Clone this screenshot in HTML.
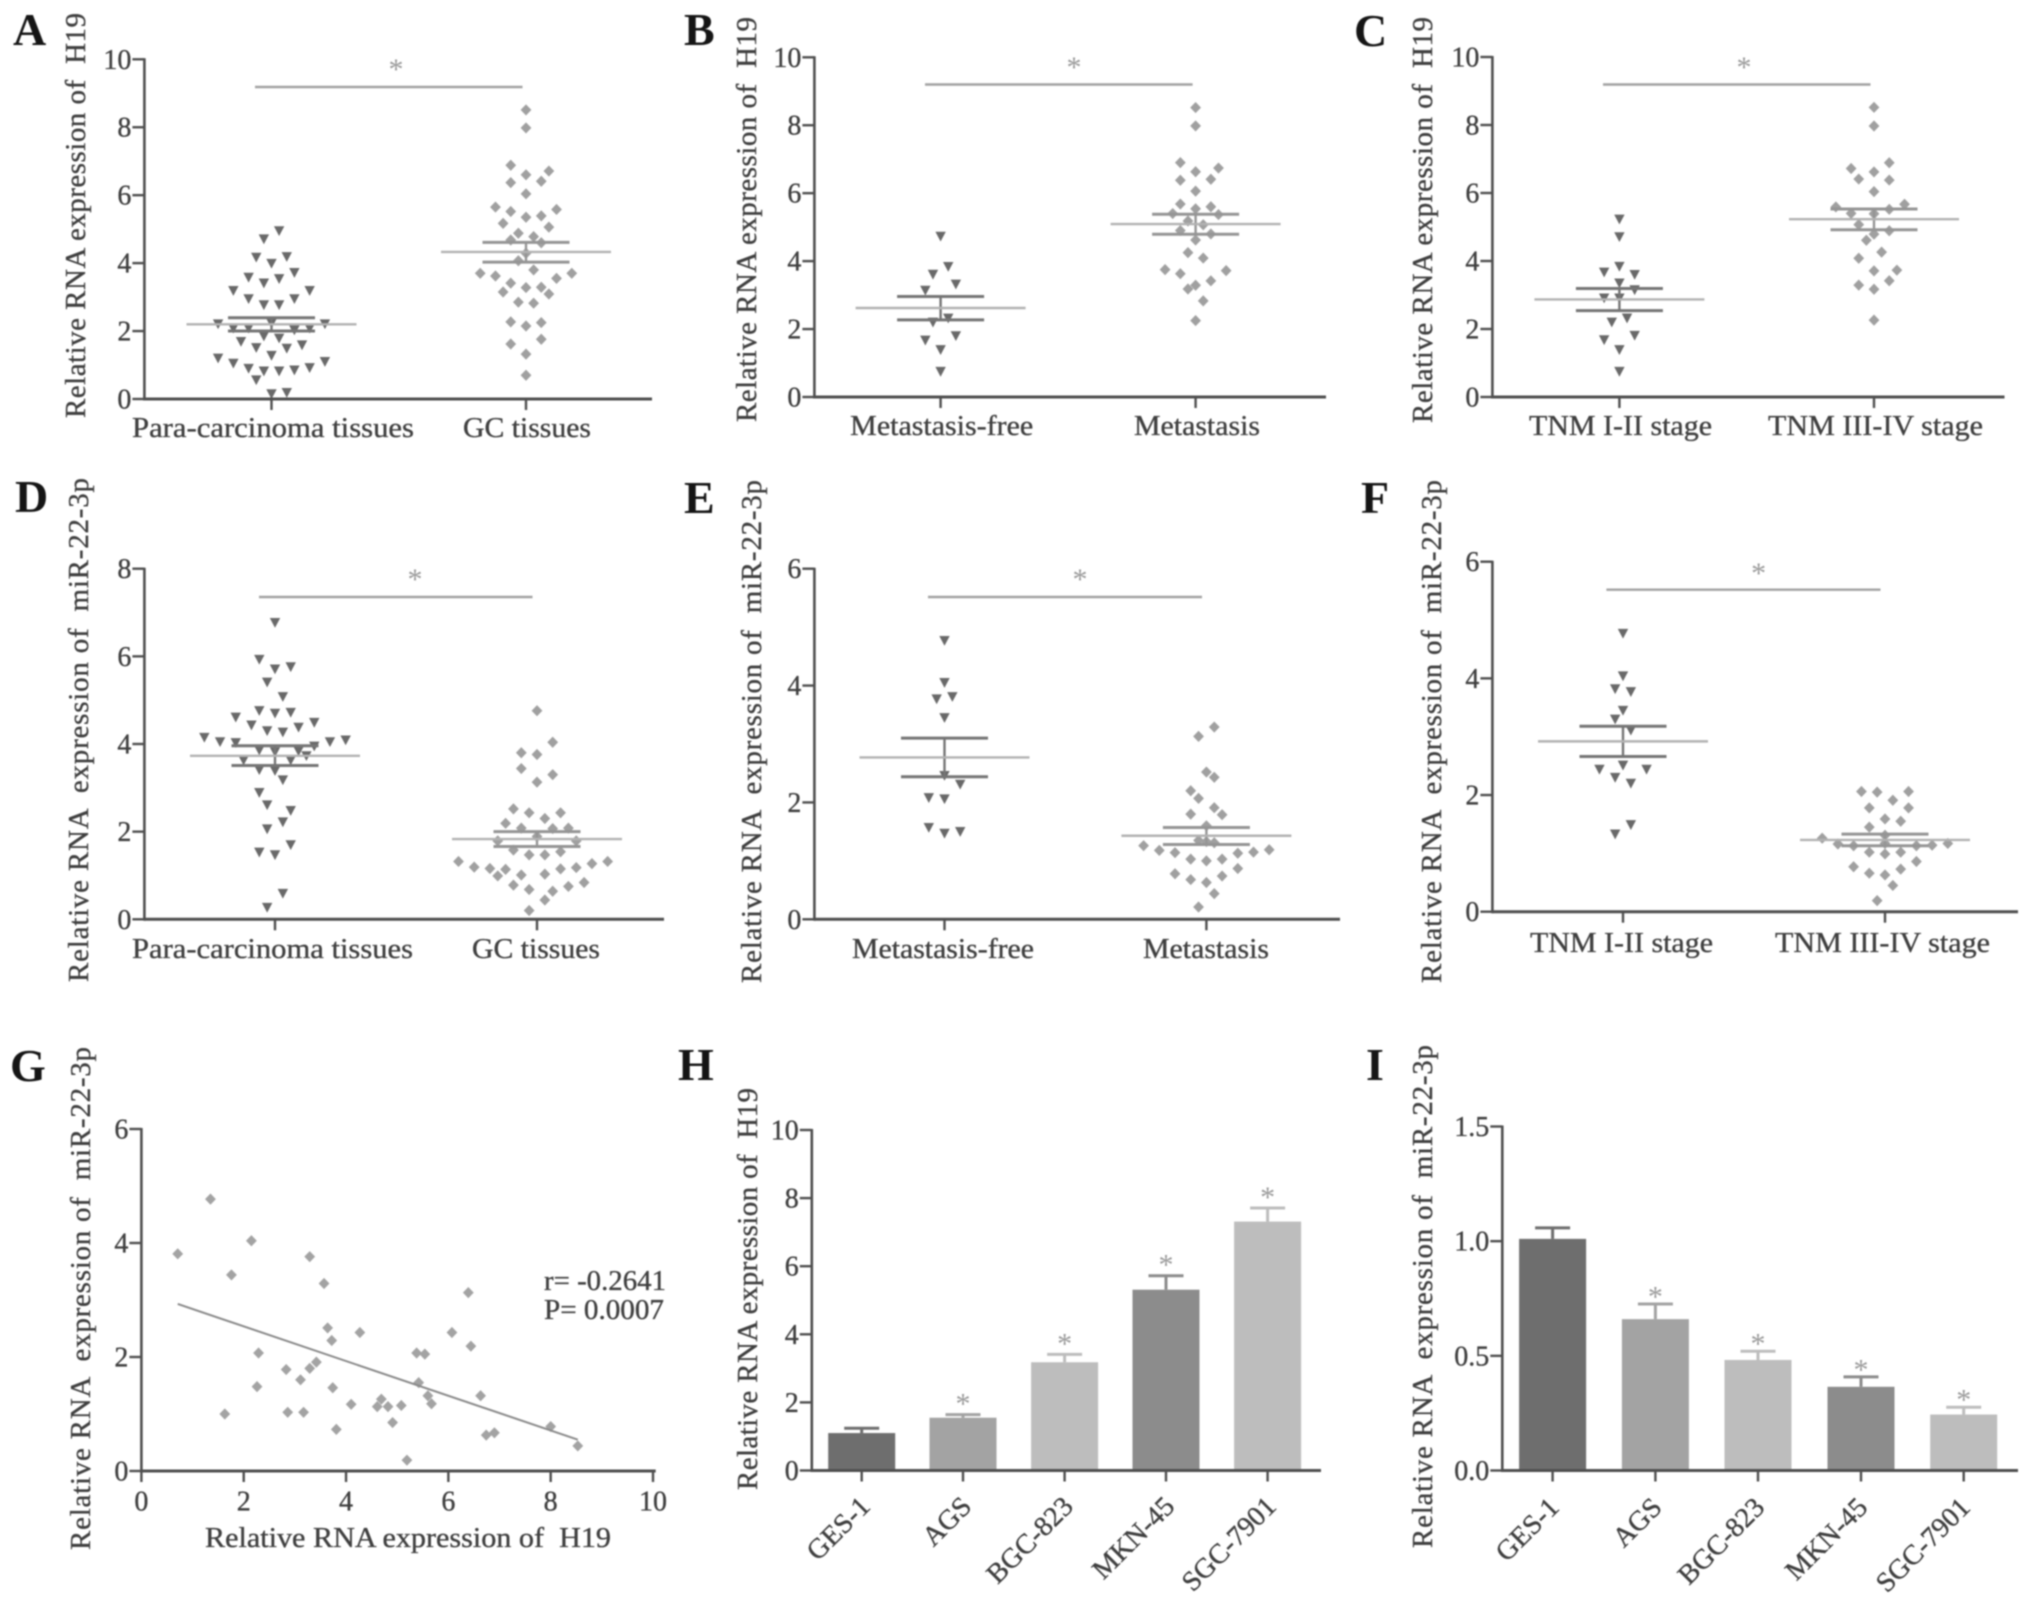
<!DOCTYPE html>
<html>
<head>
<meta charset="utf-8">
<title>H19 and miR-22-3p expression panels</title>
<style>
html,body{margin:0;padding:0;background:#fff;}
svg{display:block;}
text{font-family:"Liberation Serif",serif;fill:#3f3f3f;stroke:#3f3f3f;stroke-width:0.35px;}
#art{filter:blur(0.7px);}
.tick{font-size:28px;}
.axt{font-size:29px;}
.cat{font-size:28px;}
.letter{font-size:46px;font-weight:bold;fill:#151515;stroke:none;}
.star{font-size:30px;fill:#9a9a9a;stroke:none;text-anchor:middle;}
.sig{stroke:#a2a2a2;stroke-width:2.4;}
</style>
</head>
<body>
<svg id="fig" xmlns="http://www.w3.org/2000/svg" width="2031" height="1604" viewBox="0 0 2031 1604">
<rect width="2031" height="1604" fill="#fff"/>
<g id="art">
  <text class="letter" x="13" y="45">A</text>
  <text class="letter" x="684" y="45">B</text>
  <text class="letter" x="1354" y="46">C</text>
  <text class="letter" x="15" y="512">D</text>
  <text class="letter" x="684" y="513">E</text>
  <text class="letter" x="1361" y="513">F</text>
  <text class="letter" x="10" y="1081">G</text>
  <text class="letter" x="678" y="1080">H</text>
  <text class="letter" x="1366" y="1080">I</text>

  <text class="axt" transform="translate(85,418) rotate(-90)" textLength="405" xml:space="preserve">Relative RNA expression of  H19</text>
  <text class="axt" transform="translate(756,422) rotate(-90)" textLength="405" xml:space="preserve">Relative RNA expression of  H19</text>
  <text class="axt" transform="translate(1432,423) rotate(-90)" textLength="406" xml:space="preserve">Relative RNA expression of  H19</text>
  <text class="axt" transform="translate(88,982) rotate(-90)" textLength="504" xml:space="preserve">Relative RNA  expression of  miR-22-3p</text>
  <text class="axt" transform="translate(761,983) rotate(-90)" textLength="503" xml:space="preserve">Relative RNA  expression of  miR-22-3p</text>
  <text class="axt" transform="translate(1441,983) rotate(-90)" textLength="503" xml:space="preserve">Relative RNA  expression of  miR-22-3p</text>
  <text class="axt" transform="translate(90,1550) rotate(-90)" textLength="503" xml:space="preserve">Relative RNA  expression of  miR-22-3p</text>
  <text class="axt" transform="translate(757,1490) rotate(-90)" textLength="402" xml:space="preserve">Relative RNA expression of  H19</text>
  <text class="axt" transform="translate(1432,1548) rotate(-90)" textLength="503" xml:space="preserve">Relative RNA  expression of  miR-22-3p</text>
  <text class="cat" x="205" y="1547" textLength="406" lengthAdjust="spacingAndGlyphs" xml:space="preserve">Relative RNA expression of  H19</text>

  <line class="sig" x1="255" y1="87" x2="522.5" y2="87"/>
  <text class="star" x="396" y="79">*</text>
  <line class="sig" x1="925" y1="84.5" x2="1192.6" y2="84.5"/>
  <text class="star" x="1074" y="77">*</text>
  <line class="sig" x1="1603" y1="84.5" x2="1870.5" y2="84.5"/>
  <text class="star" x="1744" y="77">*</text>
  <line class="sig" x1="259" y1="597" x2="532.5" y2="597"/>
  <text class="star" x="415" y="589">*</text>
  <line class="sig" x1="928" y1="597" x2="1202" y2="597"/>
  <text class="star" x="1080" y="589">*</text>
  <line class="sig" x1="1606.4" y1="589.7" x2="1880.5" y2="589.7"/>
  <text class="star" x="1758.6" y="583">*</text>

  <text class="cat" x="544" y="1290" textLength="122" lengthAdjust="spacingAndGlyphs" xml:space="preserve">r= -0.2641</text>
  <text class="cat" x="544" y="1319" textLength="120" lengthAdjust="spacingAndGlyphs" xml:space="preserve">P= 0.0007</text>

  <g id="panel-a"></g>
  <g id="panel-b"></g>
  <g id="panel-c"></g>
  <g id="panel-d"></g>
  <g id="panel-e"></g>
  <g id="panel-f"></g>
  <g id="panel-g"></g>
  <g id="panel-h"></g>
  <g id="panel-i"></g>
</g>
</svg>
<script>
// ---------- tick labels and categories ----------
const ticksTen = [0, 2, 4, 6, 8, 10];
const ticksEight = [0, 2, 4, 6, 8];
const ticksSix = [0, 2, 4, 6];
const ticksOneFive = ["0.0", "0.5", "1.0", "1.5"];
const categoriesTissues = ["Para-carcinoma tissues", "GC tissues"];
const categoriesMetastasis = ["Metastasis-free", "Metastasis"];
const categoriesTnm = ["TNM I-II stage", "TNM III-IV stage"];
const categoriesCells = ["GES-1", "AGS", "BGC-823", "MKN-45", "SGC-7901"];

// ---------- swarm series: values, swarm column index, [mean, lower, upper] ----------
const aLeftValues = [4.95,4.71,4.17,4.19,3.99,3.72,3.58,3.54,3.41,3.19,3.19,2.95,2.95,2.77,2.77,2.21,2.21,2.08,2.08,2.08,2.03,2.23,1.85,1.79,1.69,1.59,1.51,1.49,1.28,1.20,1.10,1.05,0.90,0.92,0.82,0.82,0.85,0.56,0.15,0.19];
const aLeftColumns = [1,-1,-2,2,0,3,-3,1,-1,-5,5,-3,3,-1,1,-7,7,-5,-3,5,3,0,-1,1,-4,4,-2,2,0,-7,7,-5,-3,5,-1,1,3,-2,0,2];
const aLeftStats = [2.2, 2.0, 2.39];
const aRightValues = [8.51,7.98,6.88,6.71,6.6,6.37,6.41,6.04,5.65,5.58,5.52,5.39,5.35,5.17,5.06,4.88,4.78,4.68,4.6,4.29,4.07,3.8,3.7,3.7,3.62,3.55,3.41,3.28,3.29,3.15,3.09,2.85,2.82,2.27,2.25,2.15,1.76,1.62,1.32,0.7];
const aRightColumns = [0,0,-2,3,0,-2,2,0,-4,4,-2,2,0,-3,3,-1,1,-2,2,0,-1,1,-6,6,-4,4,-2,0,2,-3,3,-1,1,-2,2,0,2,-2,0,0];
const aRightStats = [4.33, 4.03, 4.61];

const bLeftValues = [4.73,3.84,3.61,3.32,3.14,2.32,2.2,1.8,1.67,1.39,0.75];
const bLeftColumns = [0,1,-1,2,-2,1,-1,2,-2,0,0];
const bLeftStats = [2.62, 2.27, 2.96];
const bRightValues = [8.52,7.98,6.9,6.74,6.63,6.38,6.41,6.06,5.68,5.6,5.54,5.4,5.37,5.18,5.07,4.9,4.8,4.62,4.25,4.09,3.75,3.72,3.63,3.42,3.29,3.18,2.83,2.25];
const bRightColumns = [0,0,-2,3,0,-2,2,0,-2,2,0,-3,3,-1,1,-2,2,0,-1,1,-4,4,-2,2,0,-1,1,0];
const bRightStats = [5.09, 4.79, 5.38];

const cLeftValues = [5.23,4.71,3.84,3.67,3.6,3.35,3.15,2.91,2.91,2.32,2.2,1.81,1.68,1.39,0.75];
const cLeftColumns = [0,0,0,-2,2,0,2,-2,0,1,-1,2,-2,0,0];
const cLeftStats = [2.87, 2.54, 3.19];
const cRightValues = [8.52,7.97,6.89,6.72,6.62,6.41,6.38,6.04,5.67,5.59,5.52,5.4,5.39,5.07,4.89,4.79,4.61,4.26,4.08,3.71,3.73,3.42,3.29,3.17,2.26];
const cRightColumns = [0,0,2,-3,0,-2,2,0,4,-5,2,-3,0,-2,2,0,-1,1,-2,0,3,2,-2,0,0];
const cRightStats = [5.23, 4.92, 5.53];

const dLeftValues = [6.77,5.93,5.76,5.71,5.41,5.08,4.76,4.7,4.72,4.61,4.49,4.43,4.38,4.3,4.27,4.15,4.09,4.05,4.05,4.03,3.95,3.86,3.84,3.82,3.73,3.63,3.63,3.41,3.39,3.18,2.89,2.61,2.48,2.22,2.06,1.7,1.53,1.47,0.59,0.27];
const dLeftColumns = [0,-2,2,0,-1,1,-2,0,2,-5,5,-3,3,-1,1,-9,9,-7,7,-5,5,-2,3,0,4,-4,2,-2,0,1,-2,-1,2,1,-1,2,-2,0,1,-1];
const dLeftStats = [3.73, 3.51, 3.96];
const dRightValues = [4.76,4.04,3.8,3.76,3.44,3.3,3.13,2.52,2.43,2.43,2.3,2.19,2.08,2.07,2.08,1.89,1.79,1.79,1.58,1.54,1.47,1.47,1.32,1.32,1.27,1.19,1.16,1.14,1.15,1.18,0.99,1.01,1.03,0.84,0.78,0.75,0.68,0.64,0.44,0.2];
const dRightColumns = [0,2,-2,0,-2,2,0,-3,-1,3,1,-4,-2,2,4,0,-5,5,-3,3,-1,1,-10,9,7,-8,-6,-4,3,5,-5,-2,1,6,-3,4,-1,2,1,-1];
const dRightStats = [1.83, 1.66, 2.0];

const eLeftValues = [4.77,4.05,3.81,3.77,3.45,2.46,2.31,2.08,2.06,1.57,1.5,1.47];
const eLeftColumns = [0,0,1,-1,0,0,2,-2,0,-2,2,0];
const eLeftStats = [2.77, 2.44, 3.1];
const eRightValues = [3.29,3.13,2.52,2.43,2.2,2.07,1.91,1.79,1.8,1.6,1.35,1.33,1.31,1.26,1.18,1.14,1.13,1.15,1.19,1.03,1.0,1.03,0.87,0.78,0.74,0.68,0.63,0.44,0.21];
const eRightColumns = [1,-1,0,1,-2,-1,1,2,-2,0,-1,0,1,-8,-6,-4,4,6,8,-2,0,2,4,-4,2,-2,0,1,-1];
const eRightStats = [1.43, 1.28, 1.57];

const fLeftValues = [4.77,4.04,3.77,3.82,3.45,3.3,3.11,2.51,2.44,2.44,2.3,2.2,1.49,1.33];
const fLeftColumns = [0,0,1,-1,0,-1,1,0,-3,3,-1,1,1,-1];
const fLeftStats = [2.92, 2.66, 3.18];
const fRightValues = [2.06,2.05,2.06,1.91,1.78,1.78,1.59,1.55,1.45,1.31,1.26,1.16,1.13,1.17,1.13,1.14,1.17,1.02,0.99,1.02,0.86,0.77,0.73,0.66,0.63,0.45,0.19];
const fRightColumns = [-3,-1,3,1,-2,3,0,2,-2,0,-8,-6,-4,0,4,6,8,-2,0,2,4,-4,2,-2,0,1,-1];
const fRightStats = [1.23, 1.13, 1.33];

// ---------- scatter series (panel G) ----------
const scatterH19 = [0.71,1.35,1.76,1.63,2.15,2.29,2.26,2.83,2.86,3.11,3.17,3.29,3.29,3.42,3.57,3.64,3.72,3.74,3.81,4.1,4.27,4.61,4.69,4.82,4.91,5.08,5.19,5.38,5.54,5.42,5.6,5.67,6.07,6.39,6.44,6.63,6.74,6.9,8.0,8.53];
const scatterMir = [3.81,4.77,3.44,1.0,4.04,2.07,1.48,1.78,1.03,1.6,1.03,3.76,1.8,1.91,3.29,2.51,2.29,1.46,0.73,1.17,2.43,1.13,1.26,1.13,0.85,1.15,0.19,2.07,2.05,1.55,1.32,1.18,2.43,3.13,2.19,1.32,0.63,0.67,0.78,0.44];
const fitLineH19 = [0.71, 8.53];
const fitLineMir = [2.93, 0.55];

// ---------- bar series ----------
const hBarValues = [1.1, 1.55, 3.18, 5.31, 7.31];
const hBarErrors = [1.24, 1.64, 3.41, 5.72, 7.71];
const hBarStars = [false, true, true, true, true];
const iBarValues = [1.01, 0.66, 0.482, 0.365, 0.244];
const iBarErrors = [1.058, 0.726, 0.52, 0.408, 0.276];
const iBarStars = [false, true, true, true, true];

// ---------- helpers ----------
const NS = "http://www.w3.org/2000/svg";
const AXIS = "#4f4f4f";
const BAR_SHADES = ["#6e6e6e", "#a3a3a3", "#bdbdbd", "#8c8c8c", "#bdbdbd"];
function mk(tag, attrs, parent) {
  const node = document.createElementNS(NS, tag);
  for (const k in attrs) node.setAttribute(k, attrs[k]);
  parent.appendChild(node);
  return node;
}
function linear(d0, d1, r0, r1) {
  return function (v) { return r0 + (v - d0) / (d1 - d0) * (r1 - r0); };
}
function drawYAxis(g, axisX, y, top, bottom, labels) {
  const axis = mk("line", {x1: axisX, x2: axisX, y1: top - 1, y2: bottom + 1.5, stroke: AXIS, "stroke-width": 2.6}, g);
  
  
  labels.forEach(function (lab) {
    const yy = y(Number(lab));
    const t = mk("line", {x1: axisX - 12, x2: axisX, y1: yy, y2: yy, stroke: AXIS, "stroke-width": 2.4}, g);
    
    
    const tx = mk("text", {x: axisX - 13, y: yy + 9.5, "text-anchor": "end", "class": "tick"}, g);
    tx.textContent = lab;
    
    
  });
}
function drawXBase(g, axisX, end, y0) {
  const axis = mk("line", {x1: axisX, x2: end, y1: y0, y2: y0, stroke: AXIS, "stroke-width": 3}, g);
  
  
}
function drawXTick(g, x, y0) {
  const t = mk("line", {x1: x, x2: x, y1: y0, y2: y0 + 11, stroke: AXIS, "stroke-width": 2.4}, g);
  
  
}
function triangle(g, cx, cy) {
  const p = mk("polygon", {points: (cx - 5.2) + "," + (cy - 4.6) + " " + (cx + 5.2) + "," + (cy - 4.6) + " " + cx + "," + (cy + 5.2), fill: "#696969"}, g);
  
  
}
function diamond(g, cx, cy, fill) {
  const p = mk("polygon", {points: cx + "," + (cy - 5.6) + " " + (cx + 5.4) + "," + cy + " " + cx + "," + (cy + 5.6) + " " + (cx - 5.4) + "," + cy, fill: fill}, g);
  
  
}
function drawSeries(g, s, cx, y, slot) {
  s.values.forEach(function (v, i) {
    const px = cx + s.columns[i] * slot;
    if (s.shape === "tri") triangle(g, px, y(v)); else diamond(g, px, y(v), "#a0a0a0");
  });
  const capCol = s.shape === "tri" ? "#757575" : "#959595";
  const stem = mk("line", {x1: cx, x2: cx, y1: y(s.stats[1]), y2: y(s.stats[2]), stroke: capCol, "stroke-width": 2.4}, g);
  
  
  [1, 2].forEach(function (k) {
    const cap = mk("line", {x1: cx - 43.5, x2: cx + 43.5, y1: y(s.stats[k]), y2: y(s.stats[k]), stroke: capCol, "stroke-width": 3}, g);
    
    
  });
  const mean = mk("line", {x1: cx - 85, x2: cx + 85, y1: y(s.stats[0]), y2: y(s.stats[0]), stroke: "#b2b2b2", "stroke-width": 2.4}, g);
  
  
}
function swarmPanel(o) {
  const g = document.getElementById(o.id);
  const y = linear(0, o.yMax, o.y0, o.yTop);
  o.series.forEach(function (s, i) { drawSeries(g, s, o.centers[i], y, o.slot); });
  drawYAxis(g, o.axisX, y, o.yTop, o.y0, o.ticks);
  drawXBase(g, o.axisX, o.end, o.y0);
  o.centers.forEach(function (c, i) {
    drawXTick(g, c, o.y0);
    const t = mk("text", {x: o.labelMids[i], y: o.labelY, "text-anchor": "middle", "class": "cat", textLength: o.labelLens[i], lengthAdjust: "spacingAndGlyphs"}, g);
    t.textContent = o.categories[i];
    
    
  });
}
function barPanel(o) {
  const g = document.getElementById(o.id);
  const y = linear(0, o.yMax, o.y0, o.yTop);
  o.values.forEach(function (v, i) {
    const c = o.centers[i];
    const stem = mk("line", {x1: c, x2: c, y1: y(v), y2: y(o.errors[i]), stroke: BAR_SHADES[i], "stroke-width": 3}, g);
    
    
    const cap = mk("line", {x1: c - 17.5, x2: c + 17.5, y1: y(o.errors[i]), y2: y(o.errors[i]), stroke: BAR_SHADES[i], "stroke-width": 3}, g);
    
    
    const bar = mk("rect", {x: c - 33.5, width: 67, y: y(v), height: o.y0 - y(v), fill: BAR_SHADES[i]}, g);
    
    
    if (o.stars[i]) {
      const s = mk("text", {x: c, y: y(o.errors[i]) - o.starGap + 16, "class": "star"}, g);
      s.textContent = "*";
      
      
    }
    drawXTick(g, c, o.y0);
    const ex = c + o.labelDx, ey = o.labelY;
    const t = mk("text", {x: ex, y: ey, "text-anchor": "end", "class": "cat", transform: "rotate(-45 " + ex + " " + ey + ")"}, g);
    t.textContent = o.categories[i];
    
    
  });
  drawYAxis(g, o.axisX, y, o.yTop, o.y0, o.ticks);
  drawXBase(g, o.axisX, o.end, o.y0);
}
function scatterPanel(o) {
  const g = document.getElementById(o.id);
  const x = linear(0, 10, o.axisX, o.x10);
  const y = linear(0, 6, o.y0, o.yTop);
  o.xs.forEach(function (v, i) { diamond(g, x(v), y(o.ys[i]), "#a3a3a3"); });
  const fit = mk("line", {x1: x(fitLineH19[0]), y1: y(fitLineMir[0]), x2: x(fitLineH19[1]), y2: y(fitLineMir[1]), stroke: "#8a8a8a", "stroke-width": 2}, g);
  
  
  drawYAxis(g, o.axisX, y, o.yTop, o.y0, ticksSix);
  drawXBase(g, o.axisX, o.end, o.y0);
  ticksTen.forEach(function (v) {
    drawXTick(g, x(v), o.y0);
    const t = mk("text", {x: x(v), y: o.y0 + 39.5, "text-anchor": "middle", "class": "tick"}, g);
    t.textContent = v;
    
    
  });
}

// ---------- panels ----------
swarmPanel({id: "panel-a", axisX: 144.4, end: 652, y0: 399, yTop: 59.3, yMax: 10, ticks: ticksTen, slot: 7.63,
  centers: [271.5, 526], categories: categoriesTissues, labelMids: [273, 527], labelLens: [282, 128], labelY: 437,
  series: [{values: aLeftValues, columns: aLeftColumns, stats: aLeftStats, shape: "tri"}, {values: aRightValues, columns: aRightColumns, stats: aRightStats, shape: "dia"}]});
swarmPanel({id: "panel-b", axisX: 814.4, end: 1326, y0: 397, yTop: 57.3, yMax: 10, ticks: ticksTen, slot: 7.63,
  centers: [940.6, 1195.6], categories: categoriesMetastasis, labelMids: [941.7, 1197], labelLens: [183, 126], labelY: 435,
  series: [{values: bLeftValues, columns: bLeftColumns, stats: bLeftStats, shape: "tri"}, {values: bRightValues, columns: bRightColumns, stats: bRightStats, shape: "dia"}]});
swarmPanel({id: "panel-c", axisX: 1492.4, end: 2004.5, y0: 397, yTop: 57, yMax: 10, ticks: ticksTen, slot: 7.63,
  centers: [1619.4, 1874], categories: categoriesTnm, labelMids: [1620.5, 1875.5], labelLens: [183, 215], labelY: 435,
  series: [{values: cLeftValues, columns: cLeftColumns, stats: cLeftStats, shape: "tri"}, {values: cRightValues, columns: cRightColumns, stats: cRightStats, shape: "dia"}]});
swarmPanel({id: "panel-d", axisX: 144.4, end: 664, y0: 919.3, yTop: 568.7, yMax: 8, ticks: ticksEight, slot: 7.85,
  centers: [275, 537], categories: categoriesTissues, labelMids: [272.5, 536], labelLens: [281, 128], labelY: 958,
  series: [{values: dLeftValues, columns: dLeftColumns, stats: dLeftStats, shape: "tri"}, {values: dRightValues, columns: dRightColumns, stats: dRightStats, shape: "dia"}]});
swarmPanel({id: "panel-e", axisX: 814.4, end: 1340, y0: 919.3, yTop: 568.7, yMax: 6, ticks: ticksSix, slot: 7.85,
  centers: [944.5, 1206.4], categories: categoriesMetastasis, labelMids: [943, 1206], labelLens: [182, 126], labelY: 958,
  series: [{values: eLeftValues, columns: eLeftColumns, stats: eLeftStats, shape: "tri"}, {values: eRightValues, columns: eRightColumns, stats: eRightStats, shape: "dia"}]});
swarmPanel({id: "panel-f", axisX: 1492.4, end: 2018, y0: 911.7, yTop: 561.7, yMax: 6, ticks: ticksSix, slot: 7.85,
  centers: [1623, 1885], categories: categoriesTnm, labelMids: [1621.5, 1882.5], labelLens: [183, 215], labelY: 952,
  series: [{values: fLeftValues, columns: fLeftColumns, stats: fLeftStats, shape: "tri"}, {values: fRightValues, columns: fRightColumns, stats: fRightStats, shape: "dia"}]});
scatterPanel({id: "panel-g", axisX: 141.4, x10: 653, end: 655.7, y0: 1471, yTop: 1129, xs: scatterH19, ys: scatterMir});
barPanel({id: "panel-h", axisX: 811.8, end: 1321, y0: 1470.5, yTop: 1130, yMax: 10, ticks: ticksTen,
  centers: [861.7, 963, 1064.6, 1166, 1267.6], categories: categoriesCells, values: hBarValues, errors: hBarErrors, stars: hBarStars, starGap: 17, labelDx: 10, labelY: 1508});
barPanel({id: "panel-i", axisX: 1502.3, end: 2018, y0: 1470.5, yTop: 1126.5, yMax: 1.5, ticks: ticksOneFive,
  centers: [1552.6, 1655.4, 1758, 1861, 1963.7], categories: categoriesCells, values: iBarValues, errors: iBarErrors, stars: iBarStars, starGap: 13.5, labelDx: 8, labelY: 1509});
</script>
</body>
</html>
